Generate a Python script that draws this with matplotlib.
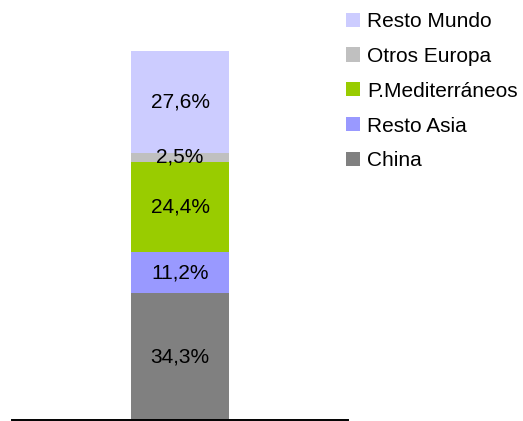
import matplotlib
matplotlib.use('Agg')
import matplotlib.pyplot as plt
from matplotlib.patches import Patch

#
# DATA
#
categories = ['China', 'Resto Asia', 'P.Mediterráneos', 'Otros Europa', 'Resto Mundo']
values = [34.3, 11.2, 24.4, 2.5, 27.6]
labels = ['34,3%', '11,2%', '24,4%', '2,5%', '27,6%']
colors = ['#808080', '#9999FF', '#99CC00', '#C0C0C0', '#CCCCFF']

plt.rcParams['font.family'] = ['Liberation Sans', 'DejaVu Sans']

W, H = 523, 421
fig = plt.figure(figsize=(W / 100, H / 100), dpi=100)
ax = fig.add_axes([12 / W, 1 / H, 336 / W, 369 / H])

bottom = 0
for v, lab, c in zip(values, labels, colors):
    ax.bar(0, v, width=1, bottom=bottom, color=c, edgecolor='none')
    ax.text(0, bottom + v / 2, lab, ha='center', va='center', fontsize=15, color='black')
    bottom += v

ax.set_xlim(-1.7, 1.7)
ax.set_ylim(0, sum(values))
for s in ['top', 'left', 'right']:
    ax.spines[s].set_visible(False)
ax.spines['bottom'].set_linewidth(1.4)
ax.spines['bottom'].set_color('black')
ax.set_xticks([])
ax.set_yticks([])

# legend (top entry first)
handles = [Patch(facecolor=c, edgecolor='none') for c in colors][::-1]
fig.legend(handles, categories[::-1], loc='upper left',
           bbox_to_anchor=(346 / W, 1 - 12 / H), frameon=False, fontsize=15,
           borderpad=0, borderaxespad=0, handlelength=0.67, handleheight=0.67,
           handletextpad=0.34, labelspacing=0.76)

fig.savefig('out.png', dpi=100)
